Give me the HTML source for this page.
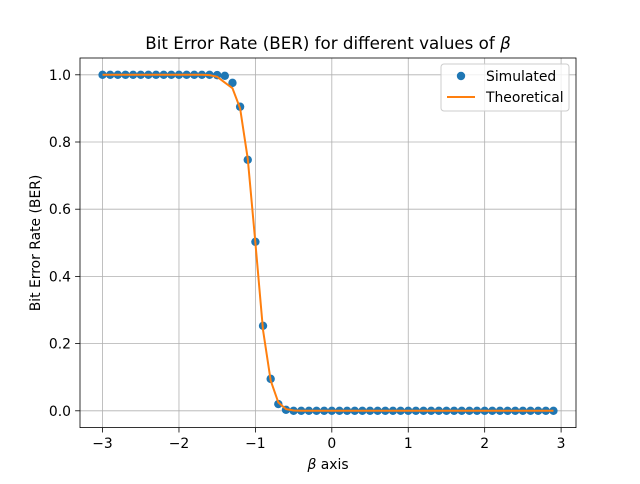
<!DOCTYPE html>
<html><head><meta charset="utf-8"><style>
body{margin:0;background:#fff;font-family:"DejaVu Sans","Liberation Sans",sans-serif}
svg text{font-family:"DejaVu Sans","Liberation Sans",sans-serif;fill:#000}
</style></head><body>
<svg id="chart" width="640" height="480" xmlns="http://www.w3.org/2000/svg">
<rect width="640" height="480" fill="#fff"/>
<g id="grid"></g>
<g id="ticks"></g>
<g id="series"></g>
<rect x="80" y="58" width="496" height="369.6" fill="none" stroke="#000" stroke-width="0.8"/>
<text x="328" y="49" font-size="16.7" text-anchor="middle">Bit Error Rate (BER) for different values of <tspan font-style="italic">β</tspan></text>
<text x="328" y="469" font-size="13.9" text-anchor="middle"><tspan font-style="italic">β</tspan> axis</text>
<text transform="translate(40,243) rotate(-90)" font-size="13.9" text-anchor="middle">Bit Error Rate (BER)</text>
<g>
<rect x="441" y="64" width="128" height="47" rx="3" fill="#fff" fill-opacity="0.8" stroke="#ccc"/>
<g><circle cx="461" cy="76" r="4.2" fill="#1f77b4"/><text x="486" y="81" font-size="13.9">Simulated</text></g>
<g><line x1="447" y1="97" x2="475" y2="97" stroke="#ff7f0e" stroke-width="2"/><text x="486" y="102" font-size="13.9">Theoretical</text></g>
</g>
</svg>
<script>
const xValues=[-3,-2.9,-2.8,-2.7,-2.6,-2.5,-2.4,-2.3,-2.2,-2.1,-2,-1.9,-1.8,-1.7,-1.6,-1.5,-1.4,-1.3,-1.2,-1.1,-1,-0.9,-0.8,-0.7,-0.6,-0.5,-0.4,-0.3,-0.2,-0.1,0,0.1,0.2,0.3,0.4,0.5,0.6,0.7,0.8,0.9,1,1.1,1.2,1.3,1.4,1.5,1.6,1.7,1.8,1.9,2,2.1,2.2,2.3,2.4,2.5,2.6,2.7,2.8,2.9];
const simulated=[1,1,1,1,1,1,1,1,1,1,1,1,1,1,1,0.999,0.997,0.976,0.905,0.747,0.503,0.253,0.095,0.02,0.003,0,0,0,0,0,0,0,0,0,0,0,0,0,0,0,0,0,0,0,0,0,0,0,0,0,0,0,0,0,0,0,0,0,0,0];
const theoretical=[1,1,1,1,1,1,1,1,1,1,1,1,1,1,0.999,0.994,0.977,0.96,0.9,0.75,0.5,0.24,0.09,0.025,0.005,0.001,0,0,0,0,0,0,0,0,0,0,0,0,0,0,0,0,0,0,0,0,0,0,0,0,0,0,0,0,0,0,0,0,0,0];
const xTicks=[-3,-2,-1,0,1,2,3];
const xTickLabels=["−3","−2","−1","0","1","2","3"];
const yTicks=[0,0.2,0.4,0.6,0.8,1.0];
const yTickLabels=["0.0","0.2","0.4","0.6","0.8","1.0"];
const NS="http://www.w3.org/2000/svg";
const xS=v=>80+(v+3.295)/6.49*496;
const yS=v=>427.6-(v+0.05)/1.1*369.6;
const grid=document.getElementById('grid'),ticks=document.getElementById('ticks'),series=document.getElementById('series');
function mk(tag,a,p){const e=document.createElementNS(NS,tag);for(const k in a)e.setAttribute(k,a[k]);p.appendChild(e);return e;}
xTicks.forEach((t,i)=>{const x=xS(t);
 const g=mk('line',{x1:x,x2:x,y1:58,y2:427.6,stroke:'#b0b0b0','stroke-width':0.8},grid);
 
 
 mk('line',{x1:x,x2:x,y1:427.6,y2:432.5,stroke:'#000','stroke-width':0.8},ticks);
 const l=mk('text',{x:x,y:448,'font-size':13.9,'text-anchor':'middle'},ticks);l.textContent=xTickLabels[i];
 
 });
yTicks.forEach((t,i)=>{const y=yS(t);
 const g=mk('line',{x1:80,x2:576,y1:y,y2:y,stroke:'#b0b0b0','stroke-width':0.8},grid);
 
 
 mk('line',{x1:75.1,x2:80,y1:y,y2:y,stroke:'#000','stroke-width':0.8},ticks);
 const l=mk('text',{x:71,y:y+5,'font-size':13.9,'text-anchor':'end'},ticks);l.textContent=yTickLabels[i];
 
 });
simulated.forEach((v,i)=>{const c=mk('circle',{cx:xS(xValues[i]),cy:yS(v),r:4.2,fill:'#1f77b4'},series);
 
 });
const line=mk('polyline',{points:theoretical.map((v,i)=>xS(xValues[i])+','+yS(v)).join(' '),fill:'none',stroke:'#ff7f0e','stroke-width':2},series);


</script>
</body></html>
